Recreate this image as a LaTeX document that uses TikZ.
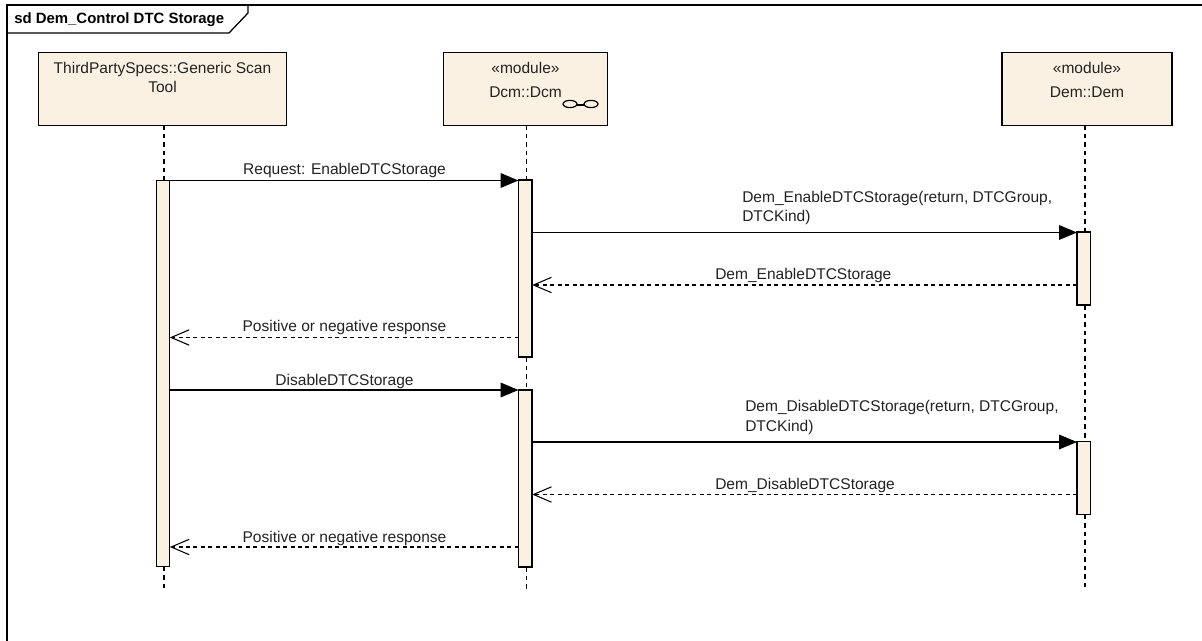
\documentclass[tikz,border=0pt]{standalone}
\usepackage{fontspec}
\setmainfont{Liberation Sans}
\usetikzlibrary{arrows.meta}
\definecolor{boxfill}{HTML}{FBF1E3}
\definecolor{inktext}{HTML}{222222}
\newcommand{\boxlines}[4]{\parbox[t][54.75pt][t]{#1}{\centering\baselineskip=#2\rule{0pt}{15.75pt}#3\\#4\par}}
\tikzset{
  lifebox/.style={draw=black,line width=0.95pt,fill=boxfill,inner sep=0pt,outer sep=0pt,minimum height=54.75pt,text=inktext,font=\fontsize{11.65}{14}\selectfont},
  actbar/.style={draw=black,line width=0.95pt,fill=boxfill,inner sep=0pt,outer sep=0pt,minimum width=10.2pt},
  lifeline/.style={line width=0.9pt,dash pattern=on 3.4pt off 3pt},
  callmsg/.style={line width=1pt,-{Triangle[length=13.5pt,width=11pt]}},
  retmsg/.style={line width=0.9pt,dash pattern=on 3pt off 2.6pt,-{Straight Barb[length=13.5pt,width=11.5pt,line width=0.8pt]}},
  msglabel/.style={inner sep=0pt,text=inktext,font=\fontsize{11.65}{14.6}\selectfont},
  framestyle/.style={line width=0.95pt,draw=black},
  iconline/.style={line width=0.9pt,draw=black}
}
\begin{document}
\begin{tikzpicture}[x=0.75pt,y=-0.75pt]
\useasboundingbox (0,0) rectangle (1202,641);
% frame
\coordinate (frameTL) at (7,5);
\coordinate (frameTR) at (1202,5);
\coordinate (frameBL) at (7,641);
\draw[framestyle] (frameBL) -- (frameTL) -- (frameTR);
\draw[framestyle] (7,33) -- (229,33) -- (248,13) -- (248,5);
\node[anchor=base west,inner sep=0pt,font=\fontsize{11.2}{13}\selectfont\bfseries,text=black] (title) at (14,24) {sd Dem\_Control DTC Storage};
% lifeline heads
\node[lifebox,minimum width=185.5pt] (boxA) at (162.5,88.7) {\boxlines{185pt}{14.25pt}{ThirdPartySpecs::Generic Scan}{Tool}};
\node[lifebox,minimum width=123pt] (boxB) at (525.5,88.7) {\boxlines{122pt}{18pt}{«module»}{Dcm::Dcm}};
\node[lifebox,minimum width=127.5pt] (boxC) at (1087,88.7) {\boxlines{127pt}{18pt}{«module»}{Dem::Dem}};
% activation bars
\node[actbar,minimum height=289.5pt] (actA) at (163,373.5) {};
\node[actbar,minimum height=132.75pt] (actB1) at (525.3,268.5) {};
\node[actbar,minimum height=132.75pt] (actB2) at (525.3,478.5) {};
\node[actbar,minimum height=54.75pt] (actC1) at (1083.8,268.5) {};
\node[actbar,minimum height=54.75pt] (actC2) at (1083.8,478) {};
% lifeline ends
\coordinate (endA) at (164,590);
\coordinate (endB) at (526.5,590);
\coordinate (endC) at (1085,590);
\draw[lifeline] (boxA.south -| endA) -- (actA.north -| endA);
\draw[lifeline] (actA.south -| endA) -- (endA);
\draw[lifeline] (boxB.south -| endB) -- (actB1.north -| endB);
\draw[lifeline] (actB1.south -| endB) -- (actB2.north -| endB);
\draw[lifeline] (actB2.south -| endB) -- (endB);
\draw[lifeline] (boxC.south -| endC) -- (actC1.north -| endC);
\draw[lifeline] (actC1.south -| endC) -- (actC2.north -| endC);
\draw[lifeline] (actC2.south -| endC) -- (endC);
% link icon
\draw[iconline] (570,104) ellipse [x radius=7,y radius=3.6];
\draw[iconline] (591,104) ellipse [x radius=7,y radius=3.6];
\draw[iconline] (577,105) -- (584,105);
% messages
\coordinate (m1) at (0,180.5);
\coordinate (m2) at (0,232.5);
\coordinate (m3) at (0,285);
\coordinate (m4) at (0,337.5);
\coordinate (m5) at (0,390);
\coordinate (m6) at (0,442);
\coordinate (m7) at (0,494.5);
\coordinate (m8) at (0,547);
\draw[callmsg] (actA.east |- m1) -- (actB1.west |- m1);
\draw[callmsg] (actB1.east |- m2) -- (actC1.west |- m2);
\draw[retmsg] (actC1.west |- m3) -- (actB1.east |- m3);
\draw[retmsg] (actB1.west |- m4) -- (actA.east |- m4);
\draw[callmsg] (actA.east |- m5) -- (actB2.west |- m5);
\draw[callmsg] (actB2.east |- m6) -- (actC2.west |- m6);
\draw[retmsg] (actC2.west |- m7) -- (actB2.east |- m7);
\draw[retmsg] (actB2.west |- m8) -- (actA.east |- m8);
% labels
\node[msglabel,anchor=base] (l1) at (344.5,175) {Request: EnableDTCStorage};
\node[msglabel,anchor=base west,align=left] (l2) at (742,222) {Dem\_EnableDTCStorage(return, DTCGroup,\\DTCKind)};
\node[msglabel,anchor=base west] (l3) at (715,280) {Dem\_EnableDTCStorage};
\node[msglabel,anchor=base] (l4) at (344.5,332) {Positive or negative response};
\node[msglabel,anchor=base] (l5) at (344.5,385) {DisableDTCStorage};
\node[msglabel,anchor=base west,align=left] (l6) at (745,431) {Dem\_DisableDTCStorage(return, DTCGroup,\\DTCKind)};
\node[msglabel,anchor=base west] (l7) at (715,489) {Dem\_DisableDTCStorage};
\node[msglabel,anchor=base] (l8) at (344.5,542) {Positive or negative response};
\end{tikzpicture}
\end{document}
